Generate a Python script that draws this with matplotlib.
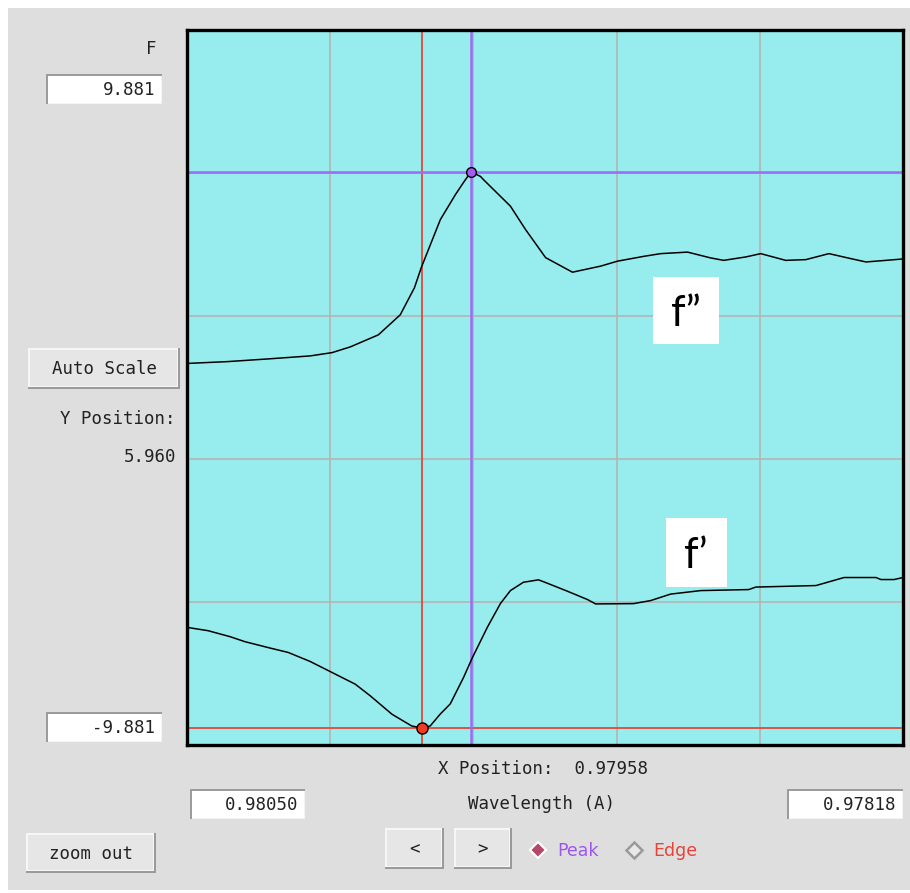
import numpy as np
import matplotlib
matplotlib.use("Agg")
import matplotlib.pyplot as plt
from matplotlib.patches import Rectangle

# anomalous scattering factors around the absorption edge
wl_fpp = [0.980500, 0.980370, 0.980237, 0.980101, 0.980030, 0.979971, 0.979880,
          0.979809, 0.979763, 0.979741, 0.979679, 0.979630, 0.979604, 0.979580,
          0.979549, 0.979540, 0.979452, 0.979403, 0.979338, 0.979251, 0.979160,
          0.979105, 0.979020, 0.978965, 0.978878, 0.978803, 0.978761, 0.978689,
          0.978641, 0.978560, 0.978495, 0.978420, 0.978349, 0.978300, 0.978235,
          0.978180]
fpp = [0.665, 0.715, 0.790, 0.873, 0.964, 1.122, 1.455,
       2.009, 2.758, 3.312, 4.642, 5.335, 5.668, 5.960,
       5.834, 5.751, 5.011, 4.365, 3.589, 3.187, 3.354,
       3.492, 3.625, 3.700, 3.742, 3.581, 3.514, 3.609,
       3.700, 3.514, 3.534, 3.700, 3.562, 3.470, 3.514,
       3.553]

wl_fp = [0.980500, 0.980432, 0.980360, 0.980312, 0.980231, 0.980172, 0.980101,
         0.980030, 0.979955, 0.979906, 0.979836, 0.979772, 0.979740, 0.979712,
         0.979679, 0.979647, 0.979604, 0.979575, 0.979559, 0.979527, 0.979484,
         0.979452, 0.979410, 0.979361, 0.979332, 0.979267, 0.979202, 0.979176,
         0.979053, 0.978998, 0.978933, 0.978835, 0.978680, 0.978657, 0.978462,
         0.978371, 0.978268, 0.978251, 0.978209, 0.978180]
fp = [-6.630, -6.721, -6.888, -7.026, -7.201, -7.323, -7.572,
      -7.877, -8.199, -8.523, -9.030, -9.355, -9.410, -9.355,
      -9.022, -8.745, -8.016, -7.461, -7.185, -6.630, -5.965,
      -5.613, -5.383, -5.316, -5.411, -5.632, -5.862, -5.982,
      -5.973, -5.890, -5.710, -5.613, -5.585, -5.516, -5.474,
      -5.252, -5.252, -5.308, -5.308, -5.252]

peak_wl, peak_f = 0.97958, 5.960
edge_wl, edge_f = 0.97974, -9.410
wl_range = (0.98050, 0.97818)
f_range = (-9.881, 9.881)

W, H = 910, 893
PANEL = "#dedede"
MONO = "DejaVu Sans Mono"


def fx(x):
    return x / W


def fy(y):
    return 1 - y / H


def rect(fig, x0, y0, x1, y1, color, z=1):
    fig.add_artist(Rectangle((fx(x0), fy(y1)), (x1 - x0) / W, (y1 - y0) / H,
                             transform=fig.transFigure, facecolor=color,
                             edgecolor="none", zorder=z))


def field(fig, x0, y0, x1, y1, text):
    # sunken entry widget
    rect(fig, x0, y0, x1, y1, "#9c9c9c")
    rect(fig, x0 + 2, y0 + 2, x1, y1, "#f4f4f4")
    rect(fig, x0 + 2, y0 + 2, x1 - 1, y1 - 1, "white")
    fig.text(fx(x1 - 7), fy((y0 + y1) / 2 + 1), text, ha="right", va="center",
             family=MONO, fontsize=12.5, color="#222222", zorder=3)


def button(fig, x0, y0, x1, y1, text):
    # raised push button
    rect(fig, x0, y0, x1, y1, "#9a9a9a")
    rect(fig, x0, y0, x1 - 2, y1 - 2, "#f6f6f6")
    rect(fig, x0 + 2, y0 + 2, x1 - 3, y1 - 3, "#e6e6e6")
    fig.text(fx((x0 + x1) / 2), fy((y0 + y1) / 2 + 1), text, ha="center", va="center",
             family=MONO, fontsize=12.5, color="#222222", zorder=3)


fig = plt.figure(figsize=(W / 100, H / 100), dpi=100)
fig.patch.set_facecolor("white")
rect(fig, 8, 8, W, 890, PANEL, z=-2)

ax = fig.add_axes([fx(187), fy(745), 716 / W, 715 / H])
ax.set_facecolor("#97eded")
ax.set_xlim(*wl_range)
ax.set_ylim(*f_range)
ax.set_xticks(np.linspace(wl_range[0], wl_range[1], 6)[1:-1])
ax.set_yticks(np.linspace(f_range[0], f_range[1], 6)[1:-1])
ax.tick_params(length=0, labelbottom=False, labelleft=False)
ax.grid(True, color="#b4b4b4", lw=1.2)
ax.set_axisbelow(True)
for s in ax.spines.values():
    s.set_color("black")
    s.set_linewidth(2.4)

# edge / peak crosshairs
ax.axvline(edge_wl, color="#e2483a", lw=1.3, zorder=1.5)
ax.axhline(edge_f, color="#e2483a", lw=1.3, zorder=1.5)
ax.axvline(peak_wl, color="#9c6cf4", lw=1.8, zorder=1.5)
ax.axhline(peak_f, color="#9c6cf4", lw=1.8, zorder=1.5)

ax.plot(wl_fpp, fpp, color="black", lw=1.1, zorder=2)
ax.plot(wl_fp, fp, color="black", lw=1.1, zorder=2)
ax.plot([peak_wl], [peak_f], "o", ms=7, mfc="#a35cf0", mec="black", mew=1.0, zorder=3)
ax.plot([edge_wl], [edge_f], "o", ms=8, mfc="#f03a22", mec="black", mew=1.0, zorder=3)

# curve labels
rect(fig, 653, 277, 719, 344, "white", z=2)
fig.text(fx(686), fy(314), "f\u201d", ha="center", va="center", family="Lato",
         fontsize=30, color="black", zorder=3)
rect(fig, 666, 518, 727, 587, "white", z=2)
fig.text(fx(696), fy(556), "f\u2019", ha="center", va="center", family="Lato",
         fontsize=30, color="black", zorder=3)

# side widgets
fig.text(fx(157), fy(49), "F", ha="right", va="center", family=MONO, fontsize=12.5, color="#222222")
field(fig, 46, 74, 162, 104, "9.881")
button(fig, 28, 348, 180, 389, "Auto Scale")
fig.text(fx(176), fy(419), "Y Position:", ha="right", va="center", family=MONO,
         fontsize=12.5, color="#222222")
fig.text(fx(176), fy(457), f"{peak_f:.3f}", ha="right", va="center", family=MONO,
         fontsize=12.5, color="#222222")
field(fig, 46, 712, 162, 742, "-9.881")

# bottom widgets
fig.text(fx(543), fy(769), f"X Position:  {peak_wl:.5f}", ha="center", va="center",
         family=MONO, fontsize=12.5, color="#222222")
fig.text(fx(542), fy(804), "Wavelength (A)", ha="center", va="center",
         family=MONO, fontsize=12.5, color="#222222")
field(fig, 190, 789, 305, 819, f"{wl_range[0]:.5f}")
field(fig, 787, 789, 903, 819, f"{wl_range[1]:.5f}")
button(fig, 26, 833, 156, 873, "zoom out")
button(fig, 385, 828, 444, 869, "<")
button(fig, 454, 828, 512, 869, ">")

fig.lines.append(plt.Line2D([fx(538)], [fy(850)], marker="D", ms=8, mfc="#b44866",
                            mec="white", mew=1.5, transform=fig.transFigure, figure=fig))
fig.text(fx(557), fy(851), "Peak", ha="left", va="center", fontsize=12.5, color="#a055ee")
fig.lines.append(plt.Line2D([fx(634)], [fy(850)], marker="D", ms=8, mfc="#e8e8e8",
                            mec="#9a9a9a", mew=1.8, transform=fig.transFigure, figure=fig))
fig.text(fx(653), fy(851), "Edge", ha="left", va="center", fontsize=12.5, color="#e8423a")

fig.savefig("out.png", dpi=100)
